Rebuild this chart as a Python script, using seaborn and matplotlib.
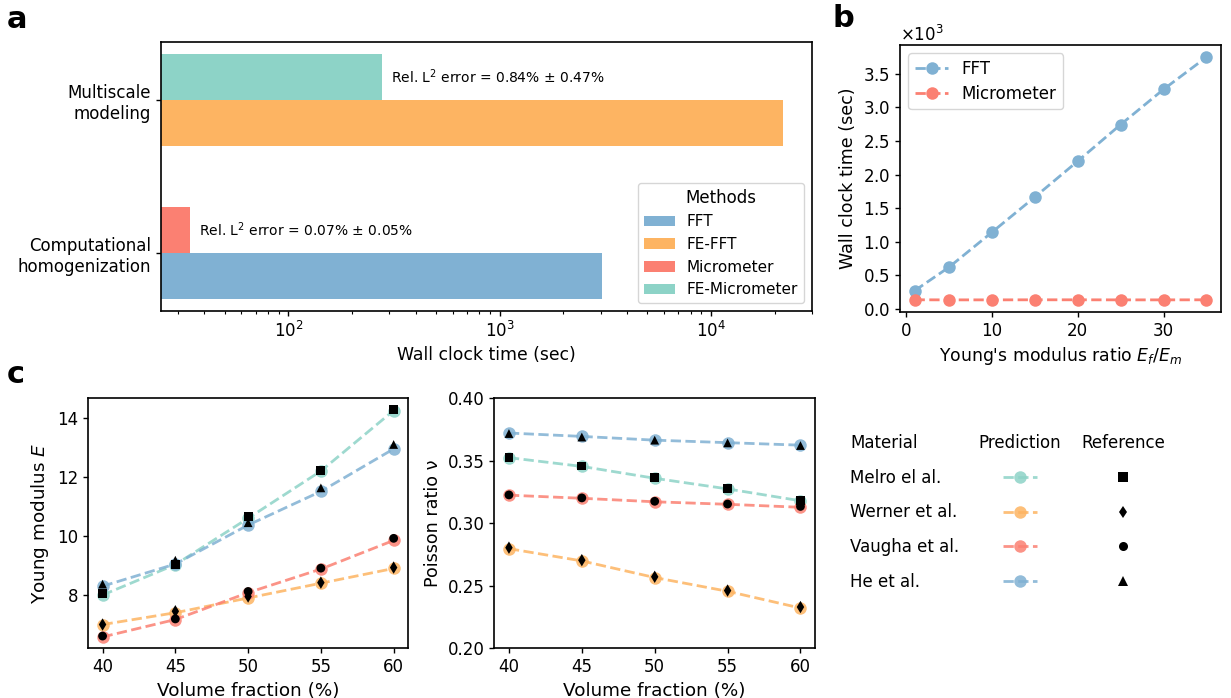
import numpy as np
import pandas as pd
import matplotlib
matplotlib.use("Agg")
import matplotlib.pyplot as plt
from matplotlib.lines import Line2D
from matplotlib.ticker import MultipleLocator, FormatStrFormatter
import seaborn as sns

# ---------------- Panel a: wall clock time of each method ----------------
methods = ["FFT", "FE-FFT", "Micrometer", "FE-Micrometer"]
method_task = ["Computational\nhomogenization", "Multiscale\nmodeling",
               "Computational\nhomogenization", "Multiscale\nmodeling"]
wall_time = [3040, 21900, 34.3, 279]
tasks = ["Computational\nhomogenization", "Multiscale\nmodeling"]
err_method = ["Micrometer", "FE-Micrometer"]
err_mean = [0.07, 0.84]
err_std = [0.05, 0.47]

# ---------------- Panel b: scaling with stiffness contrast ----------------
modulus_ratio = [1, 5, 10, 15, 20, 25, 30, 35]
fft_time = [270, 620, 1140, 1665, 2200, 2745, 3270, 3750]
micrometer_time = [135, 134, 134, 135, 135, 134, 134, 135]

# ---------------- Panel c: effective properties ----------------
materials = ["Melro el al.", "Werner et al.", "Vaugha et al.", "He et al."]
volume_fraction = [40, 45, 50, 55, 60]
E_pred = {
    "Melro el al.": [8.00, 9.03, 10.60, 12.20, 14.25],
    "Werner et al.": [7.00, 7.40, 7.90, 8.40, 8.90],
    "Vaugha et al.": [6.58, 7.17, 8.08, 8.88, 9.85],
    "He et al.": [8.30, 9.05, 10.37, 11.51, 12.95],
}
E_ref = {
    "Melro el al.": [8.05, 9.04, 10.67, 12.22, 14.28],
    "Werner et al.": [7.00, 7.45, 7.95, 8.42, 8.93],
    "Vaugha et al.": [6.61, 7.19, 8.12, 8.91, 9.92],
    "He et al.": [8.37, 9.18, 10.45, 11.63, 13.10],
}
nu_pred = {
    "Melro el al.": [0.3525, 0.3455, 0.3360, 0.3275, 0.3180],
    "Werner et al.": [0.2797, 0.2699, 0.2566, 0.2456, 0.2322],
    "Vaugha et al.": [0.3225, 0.3200, 0.3172, 0.3152, 0.3128],
    "He et al.": [0.3722, 0.3695, 0.3665, 0.3645, 0.3625],
}
nu_ref = {
    "Melro el al.": [0.3528, 0.3458, 0.3364, 0.3279, 0.3181],
    "Werner et al.": [0.2805, 0.2705, 0.2572, 0.2462, 0.2330],
    "Vaugha et al.": [0.3227, 0.3203, 0.3176, 0.3154, 0.3135],
    "He et al.": [0.3718, 0.3690, 0.3665, 0.3643, 0.3622],
}

method_colors = {"FFT": "#80b1d3", "FE-FFT": "#fdb462",
                 "Micrometer": "#fb8072", "FE-Micrometer": "#8dd3c7"}
material_colors = {"Melro el al.": "#8dd3c7", "Werner et al.": "#fdb462",
                   "Vaugha et al.": "#fb8072", "He et al.": "#80b1d3"}
ref_markers = {"Melro el al.": "s", "Werner et al.": "d",
               "Vaugha et al.": "o", "He et al.": "^"}

sns.set_theme(style="ticks")
plt.rcParams.update({
    "font.family": ["DejaVu Sans"],
    "font.size": 12,
    "axes.labelsize": 12,
    "xtick.labelsize": 12,
    "ytick.labelsize": 12,
    "axes.edgecolor": "black",
    "axes.linewidth": 1.2,
    "axes.labelcolor": "black",
    "text.color": "black",
    "xtick.color": "black",
    "ytick.color": "black",
    "xtick.major.size": 3.5,
    "ytick.major.size": 3.5,
    "xtick.major.width": 1.0,
    "ytick.major.width": 1.0,
    "xtick.minor.size": 2.0,
    "xtick.minor.width": 0.8,
    "legend.fontsize": 12,
})

fig = plt.figure(figsize=(12.31, 6.98), dpi=100)

# ---------------- Panel a ----------------
ax_a = fig.add_axes([0.1308, 0.5544, 0.5288, 0.3854])
ax_a.set_xscale("log")
df_a = pd.DataFrame({"method": methods, "task": method_task, "time": wall_time})
half = 0.15
task_index = {t: i for i, t in enumerate(tasks)}
df_a["pos"] = df_a["task"].map(task_index) + np.where(
    df_a["method"].isin(err_method), half, -half)
sns.barplot(data=df_a, x="time", y="pos", hue="method", hue_order=methods,
            palette=method_colors, orient="y", native_scale=True, dodge=False,
            width=1.0, saturation=1, linewidth=0, ax=ax_a)
ax_a.set_yticks(range(len(tasks)))
ax_a.set_yticklabels(tasks)
ax_a.set_ylim(-0.38, 1.38)
ax_a.set_xlim(25, 3.0e4)
ax_a.set_ylabel("")
ax_a.set_xlabel("Wall clock time (sec)", fontsize=12.4)
for m, mu, sd in zip(err_method, err_mean, err_std):
    row = df_a[df_a["method"] == m].iloc[0]
    ax_a.text(row["time"] * 1.1, row["pos"],
              f"Rel. L$^2$ error = {mu:.2f}% \u00b1 {sd:.2f}%",
              va="center", ha="left", fontsize=10)
sns.move_legend(ax_a, "lower right", title="Methods", fontsize=11,
                title_fontsize=12, labelspacing=0.5, frameon=True)

# ---------------- Panel b ----------------
ax_b = fig.add_axes([0.7311, 0.5530, 0.2608, 0.3825])
line_kw = dict(marker="o", markersize=9, markeredgewidth=0, linestyle="--",
               linewidth=2)
sns.lineplot(x=modulus_ratio, y=fft_time, color=method_colors["FFT"],
             label="FFT", ax=ax_b, **line_kw)
sns.lineplot(x=modulus_ratio, y=micrometer_time,
             color=method_colors["Micrometer"], label="Micrometer", ax=ax_b,
             **line_kw)
ax_b.xaxis.set_major_locator(MultipleLocator(10))
ax_b.yaxis.set_major_locator(MultipleLocator(500))
ax_b.ticklabel_format(axis="y", style="sci", scilimits=(3, 3),
                      useMathText=True)
ax_b.yaxis.get_offset_text().set_fontsize(12)
ax_b.set_xlabel("Young's modulus ratio $E_f/E_m$", fontsize=12.4)
ax_b.set_ylabel("Wall clock time (sec)", fontsize=12.6)
ax_b.legend(loc="upper left", fontsize=12, labelspacing=0.4)

# ---------------- Panel c ----------------
rows = []
for mat in materials:
    for i, vf in enumerate(volume_fraction):
        rows.append({"material": mat, "vf": vf,
                     "E_pred": E_pred[mat][i], "E_ref": E_ref[mat][i],
                     "nu_pred": nu_pred[mat][i], "nu_ref": nu_ref[mat][i]})
df_c = pd.DataFrame(rows)

pred_kw = dict(marker="o", markersize=9, markeredgewidth=0, linestyle="--",
               linewidth=2, alpha=0.85)
ax_c1 = fig.add_axes([0.0715, 0.0712, 0.2601, 0.3582])
ax_c2 = fig.add_axes([0.4016, 0.0712, 0.2605, 0.3582])
for ax, pcol, rcol in [(ax_c1, "E_pred", "E_ref"), (ax_c2, "nu_pred", "nu_ref")]:
    sns.lineplot(data=df_c, x="vf", y=pcol, hue="material",
                 hue_order=materials, palette=material_colors, legend=False,
                 ax=ax, **pred_kw)
    sns.scatterplot(data=df_c, x="vf", y=rcol, style="material",
                    style_order=materials, markers=ref_markers, color="black",
                    s=40, linewidth=0, legend=False, zorder=3, ax=ax)
    ax.xaxis.set_major_locator(MultipleLocator(5))
    ax.set_xlabel("Volume fraction (%)", fontsize=13.2)

ax_c1.set_ylabel("Young modulus $E$", fontsize=13.2)
ax_c2.set_ylabel("Poisson ratio \u03bd", fontsize=12.6)
ax_c2.set_ylim(0.20, 0.40)
ax_c2.yaxis.set_major_locator(MultipleLocator(0.05))
ax_c2.yaxis.set_major_formatter(FormatStrFormatter("%.2f"))

# Key for panel c: material names, prediction style, reference marker
key_top = 0.378
key_kw = dict(frameon=False, fontsize=12, title_fontsize=12, labelspacing=1.0,
              borderpad=0, borderaxespad=0, handletextpad=0)
blank = [Line2D([], [], linestyle="none") for _ in materials]
fig.legend(blank, materials, title="Material", loc="upper left",
           bbox_to_anchor=(0.6905, key_top), handlelength=0,
           alignment="left", **key_kw)
pred_handles = [Line2D([], [], color=material_colors[m], **pred_kw)
                for m in materials]
fig.legend(pred_handles, [""] * len(materials), title="Prediction",
           loc="upper center", bbox_to_anchor=(0.8286, key_top),
           handlelength=2.0, **key_kw)
ref_handles = [Line2D([], [], color="black", marker=ref_markers[m],
                      linestyle="none", markersize=6.5, markeredgewidth=0)
               for m in materials]
fig.legend(ref_handles, [""] * len(materials), title="Reference",
           loc="upper center", bbox_to_anchor=(0.9123, key_top),
           handlelength=1.0, **key_kw)

# Panel letters
for x, y, letter in [(0.0057, 0.960, "a"), (0.676, 0.961, "b"),
                     (0.0057, 0.4513, "c")]:
    fig.text(x, y, letter, fontsize=22, fontweight="bold", va="baseline")

fig.savefig("out.png", dpi=100)
